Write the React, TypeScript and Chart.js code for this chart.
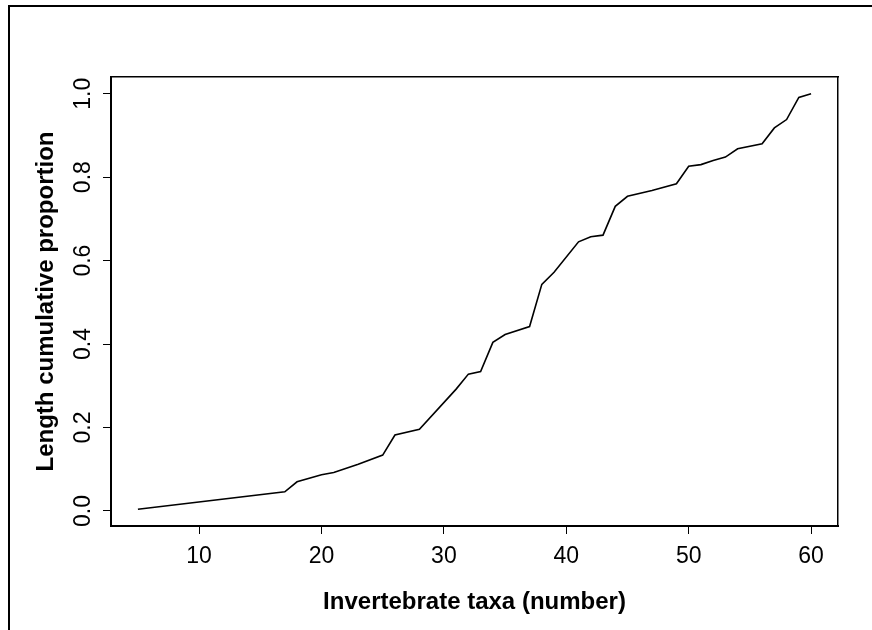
import React, { useEffect, useRef } from "react";
import { Chart, registerables } from "chart.js";

Chart.register(...registerables);

const taxa = [5, 17, 18, 20, 21, 23, 25, 26, 28, 31, 32, 33, 34, 35, 37, 38, 39, 41, 42, 43, 44, 45, 47, 49, 50, 51, 52, 53, 54, 56, 57, 58, 59, 60];
const proportion = [0.004, 0.046, 0.07, 0.087, 0.092, 0.112, 0.134, 0.182, 0.196, 0.292, 0.328, 0.334, 0.404, 0.423, 0.442, 0.543, 0.572, 0.645, 0.657, 0.661, 0.73, 0.754, 0.768, 0.784, 0.826, 0.83, 0.84, 0.848, 0.868, 0.88, 0.918, 0.938, 0.991, 1.0];
const xTicks = [10, 20, 30, 40, 50, 60];
const yTicks = [0, 0.2, 0.4, 0.6, 0.8, 1.0];
const xTitle = "Invertebrate taxa (number)";
const yTitle = "Length cumulative proportion";

const FONT = "'Liberation Sans', Arial, Helvetica, sans-serif";

export default function App() {
  const ref = useRef<HTMLCanvasElement | null>(null);

  useEffect(() => {
    if (!ref.current) return;
    const chart = new Chart(ref.current, {
      type: "line",
      data: {
        datasets: [
          {
            data: taxa.map((x, i) => ({ x, y: proportion[i] })),
            borderColor: "#000",
            borderWidth: 1.6,
            pointRadius: 0,
            tension: 0,
            fill: false,
          },
        ],
      },
      options: {
        responsive: false,
        animation: false,
        devicePixelRatio: 1,
        layout: { padding: { left: 0, top: 77, right: 34, bottom: 0 } },
        plugins: { legend: { display: false }, tooltip: { enabled: false } },
        scales: {
          x: {
            type: "linear",
            position: "bottom",
            min: 2.8,
            max: 62.2,
            afterBuildTicks: (s: any) => {
              s.ticks = xTicks.map((v) => ({ value: v }));
            },
            afterFit: (s: any) => {
              s.height = 104;
            },
            ticks: {
              color: "#000",
              font: { family: FONT, size: 23 },
              padding: 9,
              maxRotation: 0,
              autoSkip: false,
              callback: (v: any) => String(v),
            },
            grid: { display: true, drawOnChartArea: false, drawTicks: true, tickLength: 8, color: "#000", lineWidth: 1 },
            border: { display: true, color: "#000", width: 2 },
            title: {
              display: true,
              text: xTitle,
              color: "#000",
              font: { family: FONT, size: 24, weight: "bold" },
              padding: { top: 0, bottom: 13 },
            },
          },
          y: {
            type: "linear",
            position: "left",
            min: -0.036,
            max: 1.04,
            afterBuildTicks: (s: any) => {
              s.ticks = yTicks.map((v) => ({ value: v }));
            },
            afterFit: (s: any) => {
              s.width = 111;
            },
            ticks: {
              color: "#000",
              font: { family: FONT, size: 23 },
              padding: 3,
              minRotation: 90,
              maxRotation: 90,
              crossAlign: "center",
              autoSkip: false,
              callback: (v: any) => Number(v).toFixed(1),
            },
            grid: { display: true, drawOnChartArea: false, drawTicks: true, tickLength: 8, color: "#000", lineWidth: 1 },
            border: { display: true, color: "#000", width: 2 },
            title: {
              display: true,
              text: yTitle,
              color: "#000",
              font: { family: FONT, size: 24, weight: "bold" },
              padding: { top: 32, bottom: 0 },
            },
          },
          x2: {
            type: "linear",
            position: "top",
            min: 2.8,
            max: 62.2,
            afterFit: (s: any) => {
              s.height = 0;
            },
            ticks: { display: false },
            grid: { display: false, drawTicks: false },
            border: { display: true, color: "#000", width: 1.5 },
          },
          y2: {
            type: "linear",
            position: "right",
            min: -0.036,
            max: 1.04,
            afterFit: (s: any) => {
              s.width = 0;
            },
            ticks: { display: false },
            grid: { display: false, drawTicks: false },
            border: { display: true, color: "#000", width: 1.5 },
          },
        },
      },
    });
    return () => chart.destroy();
  }, []);

  return (
    <div style={{ position: "fixed", left: 0, top: 0, width: 872, height: 630, overflow: "hidden", background: "#fff" }}>
      <div
        style={{
          position: "absolute",
          left: 8,
          top: 5,
          width: 900,
          height: 700,
          borderLeft: "2px solid #000",
          borderTop: "2px solid #000",
          boxSizing: "border-box",
        }}
      />
      <canvas ref={ref} width={872} height={630} style={{ position: "absolute", left: 0, top: 0, width: 872, height: 630 }} />
    </div>
  );
}
